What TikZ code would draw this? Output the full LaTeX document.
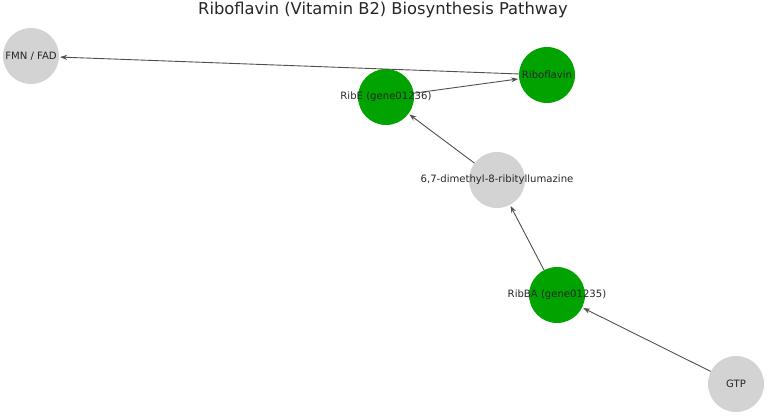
\documentclass[tikz,border=0pt]{standalone}
\usepackage{fontspec}
\setmainfont{DejaVu Sans}
\usepackage{tikz}
\usetikzlibrary{arrows.meta}

\definecolor{enzgreen}{RGB}{0,163,0}
\definecolor{metgrey}{RGB}{211,211,211}
\definecolor{edgegrey}{RGB}{80,80,80}

\begin{document}
\begin{tikzpicture}[x=1pt, y=-1pt,
    enzyme/.style={circle, fill=enzgreen, minimum size=56pt, inner sep=0pt},
    metab/.style={circle, fill=metgrey, minimum size=56pt, inner sep=0pt},
    lbl/.style={font=\fontsize{10.1}{12}\selectfont, text=black!85},
    flow/.style={draw=edgegrey, line width=0.9pt, -{Stealth[length=7pt, width=5pt]}, shorten >=1pt}]
  \useasboundingbox (0,0) rectangle (767,415);
  \node[font=\fontsize{16.3}{19}\selectfont, text=black!85] (title) at (383,10) {Riboflavin (Vitamin B2) Biosynthesis Pathway};
  \node[metab]  (fmn)   at (31,56)  {};
  \node[enzyme] (ribo)  at (547,75) {};
  \node[enzyme] (ribe)  at (386,97) {};
  \node[metab]  (dmrl)  at (497,180) {};
  \node[enzyme] (ribba) at (557,295) {};
  \node[metab]  (gtp)   at (736,384) {};
  \draw[flow] (gtp) -- (ribba);
  \draw[flow] (ribba) -- (dmrl);
  \draw[flow] (dmrl) -- (ribe);
  \draw[flow] (ribe) -- (ribo);
  \draw[flow] (ribo) -- (fmn);
  % labels on top of the circles
  \node[lbl] at (fmn)   {FMN / FAD};
  \node[lbl] at (ribo)  {Riboflavin};
  \node[lbl] at (ribe)  {RibE (gene01236)};
  \node[lbl] at (dmrl)  {6,7-dimethyl-8-ribityllumazine};
  \node[lbl] at (ribba) {RibBA (gene01235)};
  \node[lbl] at (gtp)   {GTP};
\end{tikzpicture}
\end{document}
